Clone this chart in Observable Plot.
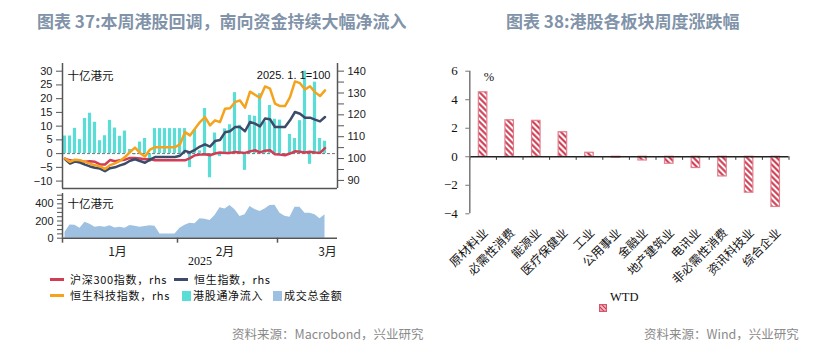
<!DOCTYPE html>
<html><head><meta charset="utf-8">
<script src="https://cdn.jsdelivr.net/npm/d3@7"></script>
<script src="https://cdn.jsdelivr.net/npm/@observablehq/plot@0.6"></script>
<style>
body{margin:0;background:#fff;}
#wrap{position:relative;width:833px;height:353px;overflow:hidden;background:#fff;font-family:"Noto Sans CJK SC",sans-serif;}
.t{position:absolute;white-space:nowrap;line-height:1;}
.title{font-size:17px;font-weight:700;color:#8193a9;}
.src{font-size:12.5px;color:#8a8a8a;}
.lg{font-size:11px;letter-spacing:0.7px;color:#111;}
.sw{position:absolute;}
</style></head>
<body><div id="wrap"></div>
<script>
// ---------- data: left chart (weekdays 2025-01-01 .. 2025-03-14) ----------
const dates = ["01-01","01-02","01-03","01-06","01-07","01-08","01-09","01-10","01-13","01-14","01-15","01-16","01-17","01-20","01-21","01-22","01-23","01-24","01-27","01-28","01-29","01-30","01-31",
"02-03","02-04","02-05","02-06","02-07","02-10","02-11","02-12","02-13","02-14","02-17","02-18","02-19","02-20","02-21","02-24","02-25","02-26","02-27","02-28",
"03-03","03-04","03-05","03-06","03-07","03-10","03-11","03-12","03-13","03-14"];
// 港股通净流入 (十亿港元)
const netInflow = [6.4,6.4,9.2,5.1,12.8,14.7,11.4,4.7,6.5,12.1,9.3,6.3,8.2,1.5,-0.4,4.2,5.5,-3.2,
9.1,9.1,9.1,9.1,9.1,9.1,9.1,-5.1,8.8,1.0,16.4,-8.8,7.5,-1.1,9.0,10.5,22.2,10.3,-6.1,13.9,13.6,21.8,11.5,17.5,12.5,12.2,-0.5,7.0,5.5,12.0,30.0,-3.9,26.0,5.5,4.5];
// 成交总金额 (十亿港元)
const turnover = [70,155,151,116,186,163,128,136,128,144,120,128,116,147,140,128,136,144,140,50,50,50,50,116,151,175,167,225,221,206,264,353,341,380,330,252,272,369,334,310,341,380,384,291,256,244,361,361,291,291,272,225,272];
// indices, 2025.1.1 = 100
const csi300 = [100.0,99.2,98.8,98.9,98.5,98.8,98.5,97.3,97.3,99.3,98.8,99.2,99.5,100.3,100.3,100.0,99.7,99.7,99.2,99.2,99.2,99.2,99.2,99.2,99.2,100.2,101.5,101.8,102.0,101.5,102.3,102.8,102.6,102.6,103.0,102.8,102.6,103.3,103.8,102.8,103.6,103.8,102.0,101.8,101.5,102.3,103.3,103.1,102.8,103.1,102.8,102.6,104.8];
const hsi = [99.8,97.7,98.6,98.2,97.2,96.4,95.8,95.4,94.2,95.6,96.0,96.9,97.6,99.0,99.7,98.9,98.1,99.5,100.7,100.7,100.7,100.7,100.7,101.3,103.5,102.8,104.0,105.5,106.5,105.5,108.0,108.5,112.0,112.5,114.4,114.4,112.5,116.7,116.0,114.7,118.3,118.0,114.4,114.4,114.4,117.5,121.3,120.5,118.7,118.7,117.8,117.0,119.0];
const hstech = [100.0,98.5,99.5,99.2,98.5,97.7,96.9,96.5,95.2,97.0,97.8,98.9,100.7,103.0,105.0,102.6,100.9,104.1,105.2,105.2,105.2,105.2,105.2,106.5,112.1,110.6,113.7,116.7,119.0,115.2,117.5,116.7,122.8,123.0,125.8,126.6,123.3,130.6,129.2,127.7,133.0,132.0,125.1,124.0,124.0,128.1,135.3,134.5,131.6,133.1,130.4,128.6,131.2];

const leftTicks = [-10,-5,0,5,10,15,20,25,30];
const rightTicks = [90,95,100,105,110,115,120,125,130,135,140];
const rightLabels = [90,100,110,120,130,140];
const volTicks = [0,50,100,150,200,250,300,350,400,450,500];
const volLabels = [0,200,400];
const monthNames = ["1月","2月","3月"];
const monthMid = [10.5,32,52.5];      // label positions (weekday index)
const monthBounds = [-0.5,22.5,42.5]; // month starts
const unitLabel = "十亿港元";
const baseLabel = "2025. 1. 1=100";
const yearLabel = "2025";

// ---------- data: right chart ----------
const sectors = ["原材料业","必需性消费","能源业","医疗保健业","工业","公用事业","金融业","地产建筑业","电讯业","非必需性消费","资讯科技业","综合企业"];
const wtd = [4.52,2.56,2.52,1.72,0.28,-0.07,-0.26,-0.49,-0.79,-1.38,-2.52,-3.52];
const wtdTicks = [-4,-2,0,2,4,6];

const rows = dates.map((d,i)=>({i, date:d, flow:netInflow[i], vol:turnover[i], csi:csi300[i], hsi:hsi[i], tech:hstech[i]}));
const secRows = sectors.map((s,i)=>({i, name:s, v:wtd[i]}));

const C = {red:"#d23c55", navy:"#3d4a69", orange:"#f5a21c", cyan:"#5addd6", area:"#9fc1e1", axis:"#555"};
const numFont = "Liberation Sans";
const cjk = "Noto Sans CJK SC";
const xDom = [-0.5,54.5];
const wrap = document.getElementById("wrap");
function place(el,l,t){el.style.position="absolute";el.style.left=l+"px";el.style.top=t+"px";el.style.overflow="visible";wrap.appendChild(el);}

// ---------- top-left: bars + left axis ----------
const yL = [-12.7,32.8];
const p1 = Plot.plot({
  width:420, height:200, marginLeft:62, marginRight:83, marginTop:63, marginBottom:12,
  x:{domain:xDom, axis:null}, y:{domain:yL, label:null},
  style:{background:"transparent", color:"#222"},
  marks:[
    Plot.rectY(rows,{x1:d=>d.i-0.32, x2:d=>d.i+0.32, y:"flow", fill:C.cyan}),
    Plot.ruleY([0],{stroke:"#777", strokeDasharray:"3,2", strokeWidth:1}),
    Plot.axisY({ticks:leftTicks, anchor:"left", tickSize:6, tickPadding:4, label:null, stroke:C.axis, fontSize:11, fontFamily:numFont}),
    Plot.ruleX([xDom[0]],{stroke:C.axis, strokeWidth:1.5}),
    Plot.ruleY([yL[0]],{stroke:C.axis, strokeWidth:1.5}),
    Plot.text([unitLabel],{text:d=>d, frameAnchor:"top-left", dx:5, dy:8, textAnchor:"start", fontSize:11.5, fontFamily:cjk, fill:"#111"})
  ]
});
place(p1,0,0);

// ---------- top-left: lines + right axis ----------
const yR = [86.3,143.5];
const p2 = Plot.plot({
  width:420, height:200, marginLeft:62, marginRight:83, marginTop:63, marginBottom:12,
  x:{domain:xDom, axis:null}, y:{domain:yR, label:null},
  style:{background:"transparent", color:"#222"},
  marks:[
    Plot.lineY(rows,{x:"i", y:"csi", stroke:C.red, strokeWidth:2.5}),
    Plot.lineY(rows,{x:"i", y:"hsi", stroke:C.navy, strokeWidth:2.5}),
    Plot.lineY(rows,{x:"i", y:"tech", stroke:C.orange, strokeWidth:2.5}),
    Plot.axisY({ticks:rightTicks, anchor:"right", tickSize:6, tickPadding:4, label:null, stroke:C.axis, fontSize:11, fontFamily:numFont,
      tickFormat:d=>rightLabels.includes(d)?String(d):""}),
    Plot.ruleX([xDom[1]],{stroke:C.axis, strokeWidth:1.5}),
    Plot.text([baseLabel],{text:d=>d, frameAnchor:"top-right", dx:-7, dy:8, textAnchor:"end", fontSize:11, fontFamily:numFont, fill:"#111"})
  ]
});
place(p2,0,0);

// ---------- bottom-left: turnover area ----------
const yV = [0,520];
const p3 = Plot.plot({
  width:420, height:272, marginLeft:62, marginRight:83, marginTop:193, marginBottom:34.3,
  x:{domain:xDom}, y:{domain:yV, label:null},
  style:{background:"transparent", color:"#222"},
  marks:[
    Plot.areaY(rows,{x:"i", y:"vol", fill:C.area}),
    Plot.axisY({ticks:volTicks, anchor:"left", tickSize:5, tickPadding:4, label:null, stroke:C.axis, fontSize:11, fontFamily:numFont,
      tickFormat:d=>volLabels.includes(d)?String(d):""}),
    Plot.ruleX([xDom[0]],{stroke:C.axis, strokeWidth:1.5}),
    Plot.ruleY([0],{stroke:C.axis, strokeWidth:1.5}),
    Plot.axisX({ticks:monthBounds, anchor:"bottom", tickSize:5, tickFormat:()=>"", label:null, stroke:C.axis, strokeWidth:1.5}),
    Plot.axisX({ticks:monthMid, anchor:"bottom", tickSize:0, tickPadding:9, label:null, fontSize:12, fontFamily:cjk,
      tickFormat:d=>monthNames[monthMid.indexOf(d)]}),
    Plot.text([yearLabel],{text:d=>d, frameAnchor:"bottom", dy:27, fontSize:12, fontFamily:"Liberation Serif", fill:"#111"}),
    Plot.text([unitLabel],{text:d=>d, frameAnchor:"top-left", dx:5, dy:6, textAnchor:"start", fontSize:11.5, fontFamily:cjk, fill:"#111"})
  ]
});
place(p3,0,0);

// ---------- right chart ----------
const xS = [-0.5,11.5];
const yS = [-4,6];
const p4 = Plot.plot({
  width:413, height:300, marginLeft:49.3, marginRight:44.5, marginTop:70.7, marginBottom:86.7,
  x:{domain:xS, axis:null}, y:{domain:yS, label:null},
  style:{background:"transparent", color:"#111"},
  marks:[
    Plot.rectY(secRows,{x1:d=>d.i-0.16, x2:d=>d.i+0.16, y:"v", fill:"url(#hatch)", stroke:"#e27f8e", strokeWidth:1.2}),
    Plot.ruleY([0],{stroke:"#222", strokeWidth:1.5}),
    Plot.ruleX(d3.range(sectors.length+1).map(k=>k-0.5),{y1:0, y2:-0.25, stroke:"#333", strokeWidth:1}),
    Plot.ruleX([xS[0]],{y1:yS[0], y2:yS[1], stroke:"#777", strokeWidth:1.5}),
    Plot.axisY({ticks:wtdTicks, anchor:"left", tickSize:4, tickPadding:8, label:null, stroke:"#777", fontSize:13, fontFamily:"Liberation Serif"}),
    Plot.text(secRows,{x:"i", text:"name", frameAnchor:"bottom", rotate:-45, textAnchor:"end", lineAnchor:"middle", dx:3, dy:17, fontSize:12, fontFamily:cjk, fill:"#111"}),
    Plot.text(["%"],{text:d=>d, frameAnchor:"top-left", dx:14, dy:1, fontSize:12.5, fontFamily:"Liberation Serif", fill:"#111"})
  ]
});
const defs = document.createElementNS("http://www.w3.org/2000/svg","defs");
defs.innerHTML = '<pattern id="hatch" patternUnits="userSpaceOnUse" width="4.2" height="4.2" patternTransform="rotate(-45)"><rect width="4.2" height="4.2" fill="#fff"/><line x1="2.1" y1="0" x2="2.1" y2="4.2" stroke="#cc3148" stroke-width="2"/></pattern>';
p4.insertBefore(defs,p4.firstChild);
place(p4,420,0);

// ---------- HTML text: titles, legends, sources ----------
function txt(cls,s,l,t){const d=document.createElement("div");d.className="t "+cls;d.textContent=s;d.style.left=l+"px";d.style.top=t+"px";wrap.appendChild(d);return d;}
function box(l,t,w,h,bg){const d=document.createElement("div");d.className="sw";d.style.cssText+=`left:${l}px;top:${t}px;width:${w}px;height:${h}px;background:${bg};`;wrap.appendChild(d);return d;}

txt("title","图表 37:本周港股回调，南向资金持续大幅净流入",37,12);
txt("title","图表 38:港股各板块周度涨跌幅",506,12);

// left legend
const legend = [
  {type:"line", color:C.red, label:"沪深300指数，rhs", l:50, row:0},
  {type:"line", color:C.navy, label:"恒生指数，rhs", l:174, row:0},
  {type:"line", color:C.orange, label:"恒生科技指数，rhs", l:50, row:1},
  {type:"box", color:C.cyan, label:"港股通净流入", l:182, row:1},
  {type:"box", color:C.area, label:"成交总金额", l:273, row:1}
];
legend.forEach(g=>{
  const cy = g.row===0?279.5:295.5;
  if(g.type==="line"){ box(g.l,cy-1.5,14,3,g.color); txt("lg",g.label,g.l+20,cy-6); }
  else { box(g.l,cy-5,9,10,g.color); txt("lg",g.label,g.l+11,cy-6); }
});

// right legend
const lgBox = document.createElement("div");
lgBox.className="sw"; lgBox.style.cssText+="left:599px;top:293px;width:8px;height:8px;";
lgBox.innerHTML='<svg width="8" height="8"><defs><pattern id="hatch2" patternUnits="userSpaceOnUse" width="3" height="3" patternTransform="rotate(-45)"><rect width="3" height="3" fill="#fff"/><line x1="1.5" y1="0" x2="1.5" y2="3" stroke="#cc3148" stroke-width="1.6"/></pattern></defs><rect x="0.6" y="0.6" width="6.8" height="6.8" fill="url(#hatch2)" stroke="#d9536a" stroke-width="1.2"/></svg>';
wrap.appendChild(lgBox);
const wt = txt("lg","WTD",610,291); wt.style.fontFamily="Liberation Serif"; wt.style.fontSize="12.5px"; wt.style.letterSpacing="0";

txt("src","资料来源：Macrobond，兴业研究",232,328);
txt("src","资料来源：Wind，兴业研究",644,328);
</script>
</body></html>
